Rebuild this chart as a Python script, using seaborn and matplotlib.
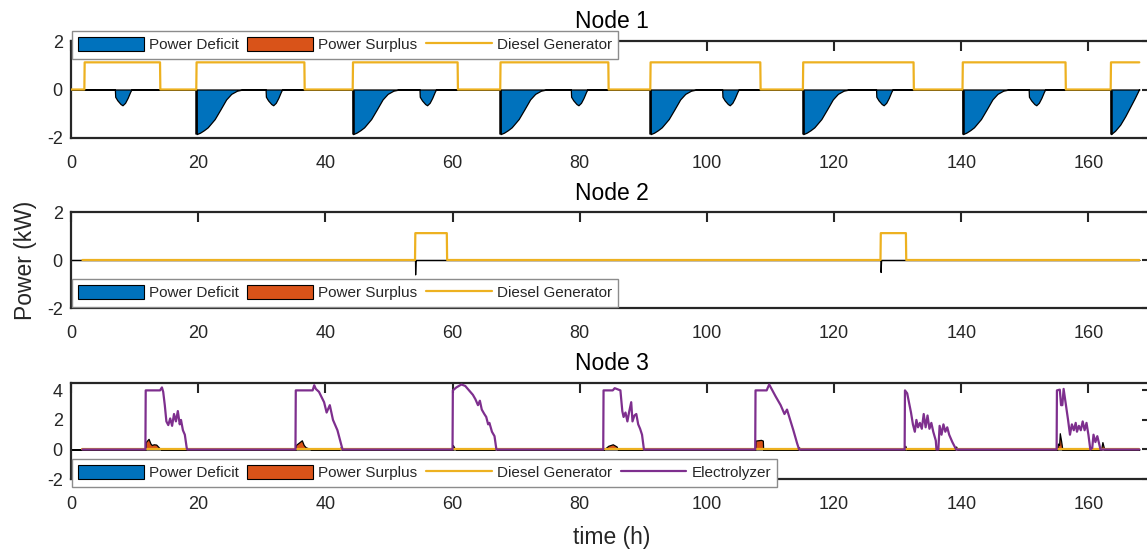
import matplotlib
matplotlib.use("Agg")
import matplotlib.pyplot as plt
from matplotlib.patches import Patch
from matplotlib.lines import Line2D
import numpy as np
import pandas as pd
import seaborn as sns

# MATLAB default colours
BLUE = "#0072BD"
ORANGE = "#D95319"
YELLOW = "#EDB120"
PURPLE = "#7E2F8E"

T_END = 168.0
DG_LEVEL = 1.12

# ---------------- Node 1 ----------------
n1_dg_on = [(2.1, 14.0), (19.7, 36.7), (44.3, 60.8), (67.5, 84.5),
            (91.1, 108.4), (115.1, 132.5), (140.2, 156.4), (163.5, 168.0)]

# deficit dips (offset from dip start, kW)
big_dip_dt = [0, 0.05, 0.6, 1.2, 1.8, 2.9, 3.8, 4.7, 5.5, 6.4, 7.3]
big_dip_p = [0, -1.84, -1.78, -1.68, -1.56, -1.22, -0.82, -0.41, -0.18, -0.05, 0]
big_dip_start = [19.7, 44.3, 67.5, 91.1, 115.1, 140.2]

small_dip_dt = [0, 0.05, 0.4, 0.9, 1.2, 1.6, 2.0, 2.4, 2.6]
small_dip_p = [0, -0.3, -0.45, -0.6, -0.65, -0.55, -0.35, -0.1, 0]
small_dip_start = [6.9, 30.6, 54.8, 78.6, 102.4, 126.6, 150.6]

last_dip_t = [163.5, 163.55, 164.2, 165.0, 165.8, 166.6, 167.3, 167.95]
last_dip_p = [0, -1.84, -1.7, -1.45, -1.1, -0.7, -0.35, 0]

# ---------------- Node 2 ----------------
n2_dg_on = [(54.1, 59.1), (127.3, 131.3)]
n2_def_t = [0, 54.1, 54.12, 54.2, 127.3, 127.32, 127.4, 168]
n2_def_p = [0, 0, -0.6, 0, 0, -0.5, 0, 0]

# ---------------- Node 3 ----------------
n3_dg_t = [1.8, 168]
n3_dg_p = [0, 0]

elec_t = [1.8, 11.7, 11.75, 14.0, 14.3, 14.5, 14.75, 15.0, 15.3, 15.6, 15.9, 16.2, 16.5, 16.8,
          17.1, 17.3, 17.6, 17.9, 18.2, 18.3,
          35.3, 35.35, 38.0, 38.25, 38.5, 39.0, 39.8, 40.2, 40.7, 41.2, 41.9, 42.4, 42.7,
          60.0, 60.05, 60.6, 61.4, 62.0, 62.6, 63.2, 63.6, 64.0, 64.3, 64.6, 65.0, 65.3, 65.6,
          65.8, 66.2, 66.6, 66.9,
          83.7, 83.75, 85.2, 85.5, 86.4, 86.7, 86.9, 87.2, 87.5, 87.8, 88.1, 88.3, 88.6, 88.9,
          89.2, 89.5, 89.8, 90.1,
          107.6, 107.65, 109.4, 109.8, 110.3, 110.8, 111.6, 112.2, 112.6, 113.1, 113.6, 114.2, 114.5,
          131.1, 131.15, 131.5, 132.1, 132.4, 132.7, 132.95, 133.2, 133.5, 133.8, 134.1, 134.4,
          134.7, 135.0, 135.3, 135.6, 136.0, 136.1, 136.4, 136.6, 136.9, 137.2, 137.5, 137.8,
          138.1, 138.6, 139.2,
          155.0, 155.05, 155.5, 155.7, 155.9, 156.1, 156.8, 157.1, 157.4, 157.7, 158.0, 158.2,
          158.5, 158.8, 159.1, 159.4, 159.7, 160.0, 160.3, 160.6, 160.8, 161.1, 161.4, 161.9, 168.0]
elec_p = [0, 0, 4.0, 4.0, 4.2, 3.9, 3.0, 1.9, 1.65, 2.1, 1.6, 2.4, 1.9, 2.6,
          1.7, 2.0, 1.3, 1.0, 0.1, 0,
          0, 4.0, 4.0, 4.35, 4.1, 3.9, 3.2, 2.5, 3.0, 2.0, 1.3, 0.5, 0,
          0, 4.0, 4.2, 4.4, 4.3, 4.0, 3.7, 3.4, 3.0, 3.3, 2.7, 2.4, 2.2, 1.7,
          1.8, 1.2, 0.9, 0,
          0, 4.0, 4.0, 4.15, 4.0, 2.6, 2.2, 2.5, 1.9, 2.6, 3.2, 1.9, 2.3, 2.4,
          1.7, 1.4, 1.0, 0,
          0, 4.0, 4.0, 4.4, 4.0, 3.6, 3.0, 2.4, 2.7, 2.0, 1.3, 0.4, 0,
          0, 4.0, 3.8, 2.5, 1.7, 1.2, 2.0, 1.5, 1.8, 1.4, 2.4, 1.5,
          2.3, 1.4, 1.8, 1.2, 0.6, 0, 0, 1.6, 1.0, 1.7, 1.2, 1.5,
          1.0, 0.5, 0,
          0, 4.0, 4.05, 3.0, 3.0, 4.1, 2.0, 1.0, 1.7, 1.3, 1.8, 1.2,
          1.6, 1.3, 1.9, 1.3, 1.8, 1.0, 0, 0.1, 1.0, 0.5, 0.9, 0, 0]

surp_t = [0, 11.7, 11.75, 12.2, 12.5, 12.7, 13.0, 13.4, 13.9, 14.2,
          35.3, 35.35, 36.3, 36.6, 36.9, 37.8, 42.2, 42.4, 42.6,
          60.0, 60.05, 60.3, 60.6, 66.6, 66.8, 67.0,
          83.8, 84.5, 85.2, 85.8, 86.0, 89.9, 90.0, 90.2,
          107.6, 107.65, 108.5, 108.8, 108.85, 114.3, 114.5, 114.7,
          131.1, 131.2, 131.4, 139.0, 139.2, 139.4,
          155.1, 155.2, 155.4, 155.5, 155.7, 155.9, 162.0, 162.2, 162.5, 168.0]
surp_p = [0, 0, 0.5, 0.72, 0.4, 0.3, 0.35, 0.33, 0.1, 0,
          0, 0.3, 0.62, 0.3, 0.15, 0, 0, 0.15, 0,
          0, 0.3, 0.1, 0, 0, 0.12, 0,
          0, 0.25, 0.35, 0.2, 0, 0, 0.08, 0,
          0, 0.6, 0.65, 0.6, 0, 0, 0.15, 0,
          0, 0.25, 0, 0, 0.2, 0,
          0, 0.4, 0.3, 1.1, 0.6, 0, 0, 0.5, 0, 0]


def step_series(on_periods, start):
    t, p = [start], [0.0]
    for a, b in on_periods:
        t += [a, a + 0.05]
        p += [0.0, DG_LEVEL]
        if b < T_END:
            t += [b, b + 0.05]
            p += [DG_LEVEL, 0.0]
        else:
            t.append(T_END)
            p.append(DG_LEVEL)
    if t[-1] < T_END:
        t.append(T_END)
        p.append(0.0)
    return pd.DataFrame({"t": t, "p": p})


def node1_deficit():
    events = [(s, big_dip_dt, big_dip_p) for s in big_dip_start]
    events += [(s, small_dip_dt, small_dip_p) for s in small_dip_start]
    events.sort()
    t, p = [0.0], [0.0]
    for s, dt, dp in events:
        t += [s + d for d in dt]
        p += dp
    t += last_dip_t + [T_END]
    p += last_dip_p + [0.0]
    return pd.DataFrame({"t": t, "p": p})


W, H = 1147, 549
sns.set_theme(style="white")
plt.rcParams["font.family"] = ["Liberation Sans", "DejaVu Sans"]
plt.rcParams["axes.unicode_minus"] = False

fig = plt.figure(figsize=(W / 100, H / 100), dpi=100)


def make_axes(top_px, bot_px):
    left, right = 71, 1152
    return fig.add_axes([left / W, 1 - bot_px / H, (right - left) / W, (bot_px - top_px) / H])


ax1 = make_axes(41, 138)
ax2 = make_axes(212, 308)
ax3 = make_axes(383, 479)

n1_def = node1_deficit()
n1_dg = step_series(n1_dg_on, 0.0)
n2_dg = step_series(n2_dg_on, 1.8)

ax1.fill_between(n1_def["t"], n1_def["p"], 0, facecolor=BLUE, edgecolor="black", lw=0.9, zorder=2)
# the steep onset edge of the big dips shows as a heavier black stroke
ax1.vlines(big_dip_start + [last_dip_t[0]], min(big_dip_p), 0, color="black", lw=1.8, zorder=2)
sns.lineplot(data=n1_dg, x="t", y="p", ax=ax1, color=YELLOW, lw=1.6, estimator=None, sort=False, zorder=3)

ax2.fill_between(n2_def_t, n2_def_p, 0, facecolor=BLUE, edgecolor="black", lw=0.9, zorder=2)
sns.lineplot(data=n2_dg, x="t", y="p", ax=ax2, color=YELLOW, lw=1.6, estimator=None, sort=False, zorder=3)

ax3.fill_between(surp_t, surp_p, 0, facecolor=ORANGE, edgecolor="black", lw=0.9, zorder=2)
sns.lineplot(x=n3_dg_t, y=n3_dg_p, ax=ax3, color=YELLOW, lw=1.6, estimator=None, sort=False, zorder=3)
sns.lineplot(x=elec_t, y=elec_p, ax=ax3, color=PURPLE, lw=1.6, estimator=None, sort=False, zorder=4)

for ax, title, ylim, yt in [(ax1, "Node 1", (-2, 2), [-2, 0, 2]),
                            (ax2, "Node 2", (-2, 2), [-2, 0, 2]),
                            (ax3, "Node 3", (-2, 4.5), [-2, 0, 2, 4])]:
    ax.set_xlim(0, 170)
    ax.set_ylim(*ylim)
    ax.set_xticks(range(0, 161, 20))
    ax.set_yticks(yt)
    ax.set_xlabel("")
    ax.set_ylabel("")
    ax.set_title(title, fontsize=16.5, pad=9, color="black")
    ax.tick_params(direction="in", length=7.5, width=1.5, top=True, right=True,
                   labelsize=13, colors="#262626")
    ax.tick_params(axis="x", pad=12)
    ax.tick_params(axis="y", pad=6)
    for sp in ax.spines.values():
        sp.set_color("#262626")
        sp.set_linewidth(1.6)


def add_legend(ax, top_px, with_elec=False):
    handles = [Patch(facecolor=BLUE, edgecolor="black", lw=0.8, label="Power Deficit"),
               Patch(facecolor=ORANGE, edgecolor="black", lw=0.8, label="Power Surplus"),
               Line2D([], [], color=YELLOW, lw=1.6, label="Diesel Generator")]
    if with_elec:
        handles.append(Line2D([], [], color=PURPLE, lw=1.6, label="Electrolyzer"))
    leg = ax.legend(handles=handles, loc="upper left", bbox_to_anchor=(72 / W, 1 - top_px / H),
                    bbox_transform=fig.transFigure, ncol=len(handles), frameon=True,
                    fancybox=False, edgecolor="#8c8c8c", framealpha=1, fontsize=11,
                    handlelength=4.3, handleheight=1.05, handletextpad=0.35,
                    columnspacing=0.55, borderpad=0.4, borderaxespad=0)
    leg.get_frame().set_linewidth(1.0)
    leg.set_zorder(10)


add_legend(ax1, 31)
add_legend(ax2, 279)
add_legend(ax3, 459, with_elec=True)

ax2.set_ylabel("Power (kW)", fontsize=16.5)
ax2.yaxis.set_label_coords((37 - 71) / 1081, 0.5)
ax3.set_xlabel("time (h)", fontsize=16.5)
ax3.xaxis.set_label_coords(0.5, -(526 - 479) / 96)

fig.savefig("out.png", dpi=100)
